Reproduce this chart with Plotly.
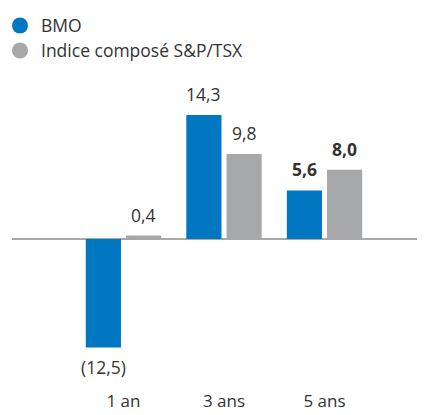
import plotly.graph_objects as go

categories = ["1 an", "3 ans", "5 ans"]
bmo = [-12.5, 14.3, 5.6]
tsx = [0.4, 9.8, 8.0]
bmo_labels = ["(12,5)", "14,3", "<b>5,6</b>"]
tsx_labels = ["0,4", "9,8", "<b>8,0</b>"]
series_names = ["BMO", "Indice composé S&P/TSX"]

BLUE = "#0077C0"
GREY = "#A7A8AA"
FONT = "Open Sans"
TXT = "#333333"

OFF = 8  # page body margin
W, H = 425 - OFF, 415 - OFF
ZERO_PX = 239          # screen y of the zero line
UNIT_PX = 124 / 14.3   # px per unit
PLOT_TOP, PLOT_BOT = 80, 389
ML, MR, MT, MB = 12 - OFF, 7, PLOT_TOP - OFF, H - (PLOT_BOT - OFF)
PW, PH = W - ML - MR, H - MT - MB
Y_MAX = (ZERO_PX - PLOT_TOP) / UNIT_PX
Y_MIN = -(PLOT_BOT - ZERO_PX) / UNIT_PX

def px_x(px):
    return (px - OFF - ML) / PW

def px_y(py):
    return (H - MB - (py - OFF)) / PH

xpos = list(range(len(categories)))
BAR_W = 0.35
BAR_GAP = 0.05
offsets = [-(BAR_W + BAR_GAP / 2), BAR_GAP / 2]

fig = go.Figure()
for vals, labels, col, off, name in zip([bmo, tsx], [bmo_labels, tsx_labels],
                                        [BLUE, GREY], offsets, series_names):
    fig.add_trace(go.Bar(x=xpos, y=vals, width=BAR_W, offset=off,
                         marker_color=col, marker_line_width=0,
                         showlegend=False, name=name))
    for xi, v, lab in zip(xpos, vals, labels):
        pos = v >= 0
        fig.add_annotation(x=xi + off + BAR_W / 2, y=v, xref="x", yref="y",
                           text=lab, showarrow=False,
                           yanchor="bottom" if pos else "top",
                           yshift=7 if pos else -6,
                           font=dict(size=17.5, color=TXT, family=FONT))

# manual legend (circle + label)
legend_rows = [25.5, 50.5]
for name, col, cy in zip(series_names, [BLUE, GREY], legend_rows):
    fig.add_shape(type="circle", xref="paper", yref="paper",
                  x0=px_x(12), x1=px_x(28), y0=px_y(cy + 8), y1=px_y(cy - 8),
                  fillcolor=col, line=dict(width=0))
    fig.add_annotation(xref="paper", yref="paper", x=px_x(39), y=px_y(cy),
                       text=name, showarrow=False, xanchor="left", yanchor="middle",
                       font=dict(size=17.5, color=TXT, family=FONT))

fig.update_layout(
    width=W, height=H,
    margin=dict(l=ML, r=MR, t=MT, b=MB, autoexpand=False),
    paper_bgcolor="white", plot_bgcolor="white",
    font=dict(family=FONT, size=17, color=TXT),
    showlegend=False,
    xaxis=dict(range=[-1.109, 2.930], showgrid=False, showline=False, ticks="",
               tickmode="array", tickvals=xpos, ticktext=categories, zeroline=False,
               automargin=False,
               tickfont=dict(size=17, color=TXT, family=FONT)),
    yaxis=dict(range=[Y_MIN, Y_MAX], showgrid=False, showticklabels=False,
               automargin=False,
               zeroline=True, zerolinecolor="#A7A8AA", zerolinewidth=2, showline=False),
)

fig.write_html("out.html")
